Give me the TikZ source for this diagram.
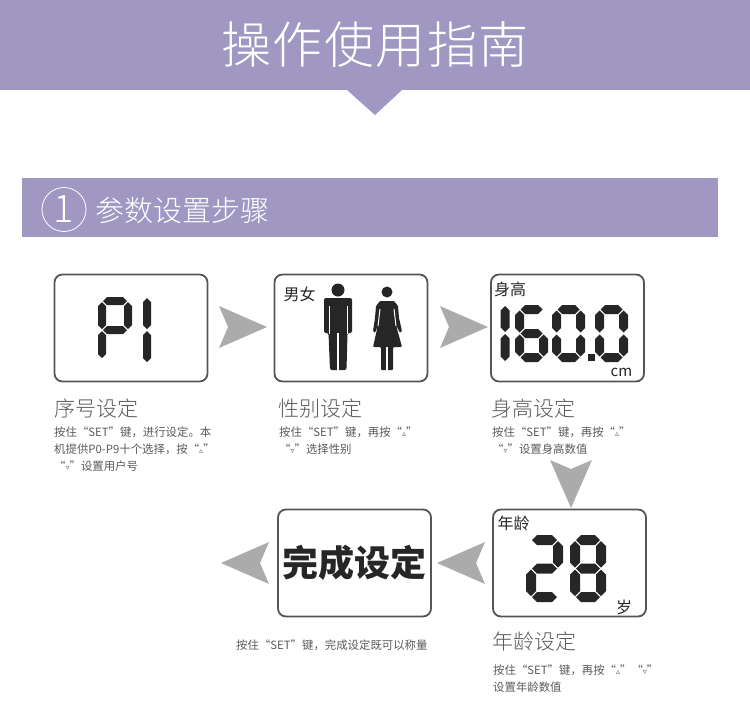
\documentclass[tikz,border=0pt]{standalone}
\usepackage{fontspec}
\setmainfont{Noto Sans CJK SC}
\newfontfamily\markfont{DejaVu Sans}
\newfontfamily\titlefont[LetterSpace=3]{Noto Sans CJK SC Light}
\newfontfamily\thinfont{Noto Sans CJK SC Light}
\usetikzlibrary{positioning}
\definecolor{bandpurple}{HTML}{A098C2}
\definecolor{framegray}{HTML}{555555}
\definecolor{chevrongray}{HTML}{ABABAB}
\definecolor{textgray}{HTML}{5A5A5A}
\definecolor{lcdblack}{HTML}{262626}
\tikzset{
    band/.style={fill=bandpurple,inner sep=0pt},
    lcdbox/.style={draw=framegray,line width=1.8pt,rounded corners=8pt,
        minimum width=153pt,minimum height=107pt,inner sep=0pt},
    lcdword/.style={text=lcdblack,font=\fontsize{16}{16}\selectfont,inner sep=0pt},
    stepname/.style={anchor=west,text=textgray,inner sep=0pt,
        font=\fontsize{21}{21}\selectfont\thinfont},
    stepnote/.style={anchor=north west,align=left,text=textgray,inner sep=0pt,
        font=\fontsize{11.4}{17.2}\selectfont},
    chevron/.pic={
        \fill[chevrongray] (-24,-21) -- (24,0) -- (-24,21) -- (-15,0) -- cycle;
    }
}
% seven segment digits, x y are the top left corner
\newcommand{\segthick}{8}
\newcommand{\hseg}[3]{\fill[lcdblack] (#1+1,#2) -- ++(\segthick/2,-\segthick/2) -- (#3-1-\segthick/2,#2-\segthick/2) -- (#3-1,#2) -- (#3-1-\segthick/2,#2+\segthick/2) -- (#1+1+\segthick/2,#2+\segthick/2) -- cycle;}
\newcommand{\vseg}[3]{\fill[lcdblack] (#1,#2+1) -- ++(\segthick/2,\segthick/2) -- (#1+\segthick/2,#3-1-\segthick/2) -- (#1,#3-1) -- (#1-\segthick/2,#3-1-\segthick/2) -- (#1-\segthick/2,#2+1+\segthick/2) -- cycle;}
\newcommand{\lcddigit}[5]{%
    \foreach \s in {#5}{
        \ifnum\s=1 \hseg{#1+\segthick/2}{#2+\segthick/2}{#1+#3-\segthick/2}\fi
        \ifnum\s=2 \vseg{#1+#3-\segthick/2}{#2+\segthick/2}{#2+#4/2}\fi
        \ifnum\s=3 \vseg{#1+#3-\segthick/2}{#2+#4/2}{#2+#4-\segthick/2}\fi
        \ifnum\s=4 \hseg{#1+\segthick/2}{#2+#4-\segthick/2}{#1+#3-\segthick/2}\fi
        \ifnum\s=5 \vseg{#1+\segthick/2}{#2+#4/2}{#2+#4-\segthick/2}\fi
        \ifnum\s=6 \vseg{#1+\segthick/2}{#2+\segthick/2}{#2+#4/2}\fi
        \ifnum\s=7 \hseg{#1+\segthick/2}{#2+#4/2}{#1+#3-\segthick/2}\fi
    }
}
\newcommand{\upmark}{{\markfont\fontsize{8}{8}\selectfont ▵}}
\newcommand{\downmark}{{\markfont\fontsize{8}{8}\selectfont ▿}}

\begin{document}
\begin{tikzpicture}[x=1pt,y=-1pt]
	\useasboundingbox (0,0) rectangle (750,715);
	% header
	\node[band,minimum width=750pt,minimum height=90pt,text=white,
		font=\fontsize{50}{50}\selectfont\titlefont] at (375,45) (titleband) {操作使用指南};
	\fill[bandpurple] (347,90) -- (402,90) -- (375,115) -- cycle;
	\node[band,minimum width=696pt,minimum height=59pt] at (370,207.5) (stepband) {};
	\node[circle,draw=white,line width=0.8pt,minimum size=44pt,inner sep=0pt,text=white,
		font=\fontsize{38}{38}\selectfont\thinfont] at (64,209.5) (stepcircle) {1};
	\node[anchor=west,inner sep=0pt,text=white,
		font=\fontsize{29}{29}\selectfont\thinfont] at (95,211) (steptitle) {参数设置步骤};
	% boxes
	\node[lcdbox] at (131,328) (seqbox) {};
	\node[lcdbox] at (351,328) (sexbox) {};
	\node[lcdbox] at (567.5,328) (heightbox) {};
	\node[lcdbox] at (569.5,563) (agebox) {};
	\node[lcdbox,text=lcdblack,font=\fontsize{36}{36}\selectfont\bfseries] at (354.5,563) (donebox) {完成设定};
	% chevrons
	\pic at (243,327) {chevron};
	\pic at (464,327) {chevron};
	\pic[rotate=-90] at (571,484) {chevron};
	\pic[rotate=180] at (461,563) {chevron};
	\pic[rotate=180] at (245,563) {chevron};
	% P1
	\lcddigit{98}{297}{34}{66}{1,2,6,7,5}
	\vseg{147}{297}{330}
	\vseg{147}{330}{363}
	% man
	\fill[lcdblack] (338,290) circle (6.5);
	\fill[lcdblack,rounded corners=2pt] (324,333) -- (324,298) -- (352,298) -- (352,333) -- (347.5,333) -- (346.5,370) -- (330,370) -- (328.5,333) -- cycle;
	\draw[white,line width=1pt] (329,306) -- (329,334) (347,306) -- (347,334);
	\draw[white,line width=1.8pt] (338,333) -- (338,371);
	% woman
	\fill[lcdblack] (387,292) circle (5.5);
	\fill[lcdblack,rounded corners=1pt] (380,301) -- (394,301) -- (398,306) -- (399,318) -- (402,331) -- (400,333) -- (396,325) -- (402,347) -- (393,347) -- (393,370) -- (381,370) -- (381,347) -- (373,347) -- (378,325) -- (375,333) -- (373,331) -- (375,318) -- (376,306) -- cycle;
	\draw[white,line width=1pt] (380,309) -- (378,326) (394,309) -- (396,326);
	\draw[white,line width=1.4pt] (387,347) -- (387,371);
	\node[lcdword] at (299.5,294) (sexword) {男女};
	% 160.0
	\renewcommand{\segthick}{9}
	\vseg{505}{305}{333}
	\vseg{505}{333}{362}
	\lcddigit{515}{305}{33}{57}{1,3,4,5,6,7}
	\lcddigit{552}{305}{33}{57}{1,2,3,4,5,6}
	\fill[lcdblack] (587.5,353.5) rectangle (594.5,360.5);
	\lcddigit{595}{305}{33}{57}{1,2,3,4,5,6}
	\node[lcdword] at (510,289) (heightword) {身高};
	\node[lcdword,font=\fontsize{15}{15}\selectfont] at (621.5,372) (cmword) {cm};
	% 28
	\renewcommand{\segthick}{10}
	\lcddigit{526}{535}{37}{67}{1,2,7,5,4}
	\lcddigit{570}{535}{36}{67}{1,2,3,4,5,6,7}
	\node[lcdword] at (513.5,523) (ageword) {年龄};
	\node[lcdword] at (624,607) (yearword) {岁};
	% captions
	\node[stepname] at (54,409) (seqname) {序号设定};
	\node[stepnote] at (54,426.5) (seqnote) {按住“SET”键，进行设定。本\\机提供P0-P9十个选择，按“\upmark”\\“\downmark”设置用户号};
	\node[stepname] at (278,409) (sexname) {性别设定};
	\node[stepnote] at (279,426.5) (sexnote) {按住“SET”键，再按“\upmark”\\“\downmark ”选择性别};
	\node[stepname] at (491,409) (heightname) {身高设定};
	\node[stepnote] at (492,426.5) (heightnote) {按住“SET”键，再按“\upmark”\\“\downmark ”设置身高数值};
	\node[stepname] at (492,642) (agename) {年龄设定};
	\node[stepnote] at (493,664.5) (agenote) {按住“SET”键，再按“\upmark”“\downmark ”\\设置年龄数值};
	\node[stepnote] at (236,639.5) (donenote) {按住“SET”键，完成设定既可以称量};
\end{tikzpicture}
\end{document}
